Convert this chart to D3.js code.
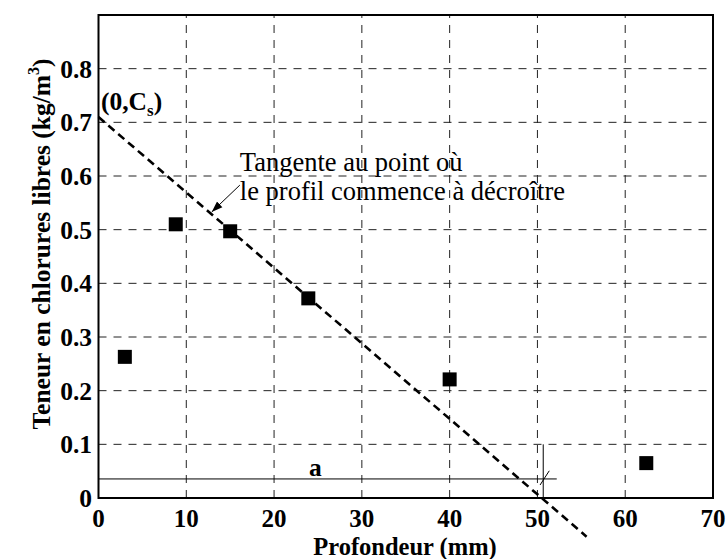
<!DOCTYPE html>
<html>
<head>
<meta charset="utf-8">
<script src="https://cdn.jsdelivr.net/npm/d3@7"></script>
<style>
  html, body { margin: 0; padding: 0; background: #fff; }
  svg { display: block; }
  text { font-family: "Liberation Serif", "Times New Roman", serif; }
</style>
</head>
<body>
<script>
// ---- Data ----
const depth = [3, 8.8, 15, 23.9, 40, 62.4];            // Profondeur (mm)
const chloride = [0.263, 0.51, 0.497, 0.372, 0.221, 0.065]; // kg/m3
const xTicks = [0, 10, 20, 30, 40, 50, 60, 70];
const yTicks = [0, 0.1, 0.2, 0.3, 0.4, 0.5, 0.6, 0.7, 0.8];
// tangent line end points (depth, chloride)
const tangentX = [0, 55.6];
const tangentY = [0.71, -0.072];
// construction for "a"
const aLineX = [0, 52.2];
const aLineY = 0.0355;
const aVertX = 50.66;
const aVertY = [0, 0.1];
const slashX = [50.3, 51.35];
const slashY = [0.0242, 0.0507];
const arrowX = [16.1, 12.9];
const arrowY = [0.583, 0.533];

const W = 726, H = 559;
const x = d3.scaleLinear().domain([0, 70]).range([98.5, 713]);
const y = d3.scaleLinear().domain([0, 0.9]).range([498, 15]);

const svg = d3.select("body").append("svg").attr("width", W).attr("height", H);

svg.append("defs").append("marker")
  .attr("id", "arr").attr("viewBox", "0 0 10 10").attr("refX", 10).attr("refY", 5)
  .attr("markerWidth", 11).attr("markerHeight", 11).attr("markerUnits", "userSpaceOnUse")
  .attr("orient", "auto")
  .append("path").attr("d", "M0,1.5 L10,5 L0,8.5 Z").attr("fill", "#000");

// grid
const g = svg.append("g");
g.selectAll("line.vg").data(xTicks.filter(d => d > 0 && d < 70)).enter().append("line")
  .attr("x1", d => x(d)).attr("x2", d => x(d)).attr("y1", y(0)).attr("y2", y(0.9))
  .attr("stroke", "#222").attr("stroke-width", 1).attr("stroke-dasharray", "8,7");
g.selectAll("line.hg").data(yTicks.filter(d => d > 0)).enter().append("line")
  .attr("y1", d => y(d)).attr("y2", d => y(d)).attr("x1", x(0)).attr("x2", x(70))
  .attr("stroke", "#222").attr("stroke-width", 1).attr("stroke-dasharray", "8,7");

// construction lines
svg.append("line").attr("x1", x(aLineX[0])).attr("x2", x(aLineX[1]))
  .attr("y1", y(aLineY)).attr("y2", y(aLineY)).attr("stroke", "#000").attr("stroke-width", 1);
svg.append("line").attr("x1", x(aVertX)).attr("x2", x(aVertX))
  .attr("y1", y(aVertY[0])).attr("y2", y(aVertY[1])).attr("stroke", "#000").attr("stroke-width", 1);
svg.append("line").attr("x1", x(slashX[0])).attr("x2", x(slashX[1]))
  .attr("y1", y(slashY[0])).attr("y2", y(slashY[1])).attr("stroke", "#000").attr("stroke-width", 1);

// frame
svg.append("rect").attr("x", x(0)).attr("y", y(0.9)).attr("width", x(70) - x(0)).attr("height", y(0) - y(0.9))
  .attr("fill", "none").attr("stroke", "#000").attr("stroke-width", 2);

// tangent
svg.append("line").attr("x1", x(tangentX[0])).attr("y1", y(tangentY[0]))
  .attr("x2", x(tangentX[1])).attr("y2", y(tangentY[1]))
  .attr("stroke", "#000").attr("stroke-width", 2.6).attr("stroke-dasharray", "8,5");

// points
const sz = 14;
svg.selectAll("rect.pt").data(depth.map((d, i) => [d, chloride[i]])).enter().append("rect")
  .attr("x", d => x(d[0]) - sz / 2).attr("y", d => y(d[1]) - sz / 2)
  .attr("width", sz).attr("height", sz).attr("fill", "#000");

// arrow
svg.append("line").attr("x1", x(arrowX[0])).attr("y1", y(arrowY[0]))
  .attr("x2", x(arrowX[1])).attr("y2", y(arrowY[1]))
  .attr("stroke", "#000").attr("stroke-width", 1).attr("marker-end", "url(#arr)");

// tick labels
svg.selectAll("text.xt").data(xTicks).enter().append("text")
  .attr("x", d => x(d)).attr("y", 527).attr("text-anchor", "middle")
  .attr("font-size", 25).attr("font-weight", "bold").text(d => d);
svg.selectAll("text.yt").data(yTicks).enter().append("text")
  .attr("x", 92).attr("y", d => y(d) + 9).attr("text-anchor", "end")
  .attr("font-size", 25.5).attr("font-weight", "bold").text(d => d === 0 ? "0" : d3.format(".1f")(d));

// axis titles
svg.append("text").attr("x", 405).attr("y", 555).attr("text-anchor", "middle")
  .attr("font-size", 24.5).attr("font-weight", "bold").text("Profondeur (mm)");
const yl = svg.append("text").attr("transform", "translate(50,244) rotate(-90)")
  .attr("text-anchor", "middle").attr("font-size", 25.5).attr("font-weight", "bold");
yl.append("tspan").text("Teneur en chlorures libres (kg/m");
yl.append("tspan").attr("font-size", 16).attr("dy", -11).text("3");
yl.append("tspan").attr("dy", 11).text(")");

// annotations
const cs = svg.append("text").attr("x", 101).attr("y", 110).attr("font-size", 25.5).attr("font-weight", "bold");
cs.append("tspan").text("(0,C");
cs.append("tspan").attr("font-size", 17).attr("dy", 6).text("s");
cs.append("tspan").attr("dy", -6).text(")");

svg.append("text").attr("x", x(16.1)).attr("y", 170.5).attr("font-size", 26.5).text("Tangente au point où");
svg.append("text").attr("x", x(16.1)).attr("y", 200).attr("font-size", 26.5).text("le profil commence à décroître");
svg.append("text").attr("x", 309).attr("y", 476).attr("font-size", 25.5).attr("font-weight", "bold").text("a");
</script>
</body>
</html>
